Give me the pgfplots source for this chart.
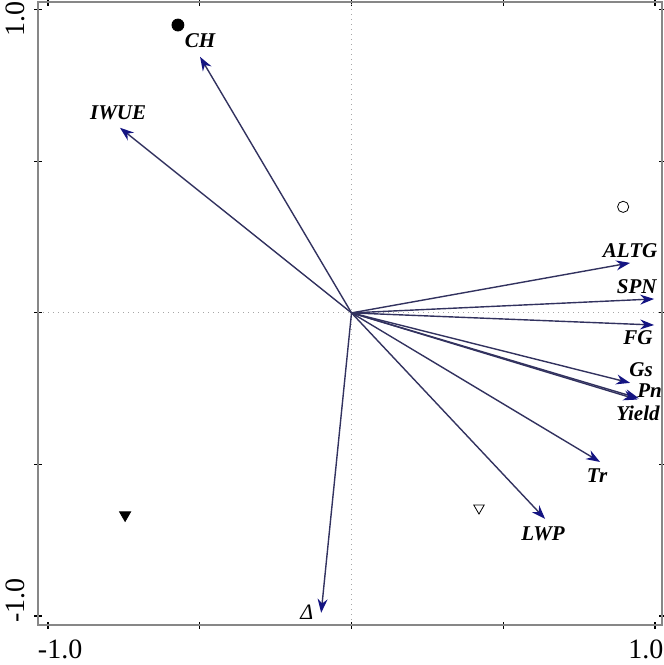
\documentclass[border=0pt]{standalone}
\usepackage{fontspec}
\setmainfont{Liberation Serif}
\usepackage{pgfplots}
\pgfplotsset{compat=1.18}
\usetikzlibrary{arrows.meta}
\definecolor{frame}{RGB}{135,135,135}
\definecolor{vline}{RGB}{50,50,95}
\definecolor{vhead}{RGB}{20,20,130}

\pgfplotstableread{
x y lab
-0.499 0.898 CH
-0.769 0.660 IWUE
0.918 0.205 ALTG
0.940 0.086 SPN
0.944 -0.083 FG
0.954 -0.188 Gs
0.982 -0.258 Pn
0.944 -0.330 Yield
0.809 -0.538 Tr
0.631 -0.729 LWP
}\varlabels

\begin{document}
\begin{tikzpicture}
\begin{axis}[
    scale only axis,
    width=312pt, height=311.5pt,
    xmin=-1.033, xmax=1.023,
    ymin=-1.03, ymax=1.026,
    axis line style={frame, line width=1pt},
    xtick={-1,-0.5,0,0.5,1},
    ytick={-1,-0.5,0,0.5,1},
    xticklabels={}, yticklabels={},
    tick align=center,
    major tick length=3.5pt,
    tick style={black, line width=0.6pt},
    extra x ticks={-0.96,0.97},
    extra x tick labels={-1.0,1.0},
    extra y ticks={-0.95,0.97},
    extra y tick labels={-1.0,1.0},
    extra tick style={major tick length=0pt},
    /pgf/number format/assume math mode=true,
    xticklabel style={font=\fontsize{14}{16}\selectfont, anchor=north, inner sep=0pt},
    xticklabel shift=7pt,
    yticklabel style={font=\fontsize{14}{16}\selectfont, rotate=90, anchor=south, inner sep=0pt},
    yticklabel shift=6.5pt,
    clip=false,
]
% zero lines
\addplot[gray!70, dotted, line width=0.5pt] coordinates {(-1.033,0) (1.023,0)};
\addplot[gray!70, dotted, line width=0.5pt] coordinates {(0,-1.03) (0,1.026)};

% variable arrows
\foreach \xx/\yy in {-0.499/0.845, -0.763/0.611, 0.918/0.165, 0.997/0.046, 0.997/-0.040,
                     0.918/-0.231, 0.947/-0.282, 0.942/-0.286, 0.819/-0.492, 0.638/-0.680, -0.100/-0.990}{
  \edef\temp{\noexpand\addplot[vline, line width=0.7pt,
      -{Stealth[length=7pt,width=5pt,color=vhead]}] coordinates {(0,0) (\xx,\yy)};}
  \temp
}

% variable names
\addplot[only marks, mark=none, nodes near coords, point meta=explicit symbolic,
  nodes near coords style={anchor=center, inner sep=1pt, font=\fontsize{10.5}{12}\selectfont\bfseries\itshape}]
  table[x=x, y=y, meta=lab] {\varlabels};

% treatment symbols
\addplot[only marks, mark=*, mark size=3pt, black] coordinates {(-0.572,0.950)};
\addplot[only marks, mark=o, mark size=2.8pt, black, thin] coordinates {(0.895,0.350)};
\addplot[only marks, mark=triangle*, mark size=3.2pt, black, mark options={rotate=180}] coordinates {(-0.746,-0.667)};
\addplot[only marks, mark=triangle, mark size=3pt, black, thin, mark options={rotate=180}] coordinates {(0.420,-0.644)};
\addplot[only marks, mark=text, text mark={\fontsize{11}{12}\selectfont\itshape Δ}, black] coordinates {(-0.147,-0.987)};
\end{axis}
\pgfresetboundingbox
\path[use as bounding box] ([shift={(-19pt,-20pt)}]current axis.south west) rectangle ([shift={(1pt,1pt)}]current axis.north east);
\end{tikzpicture}
\end{document}
